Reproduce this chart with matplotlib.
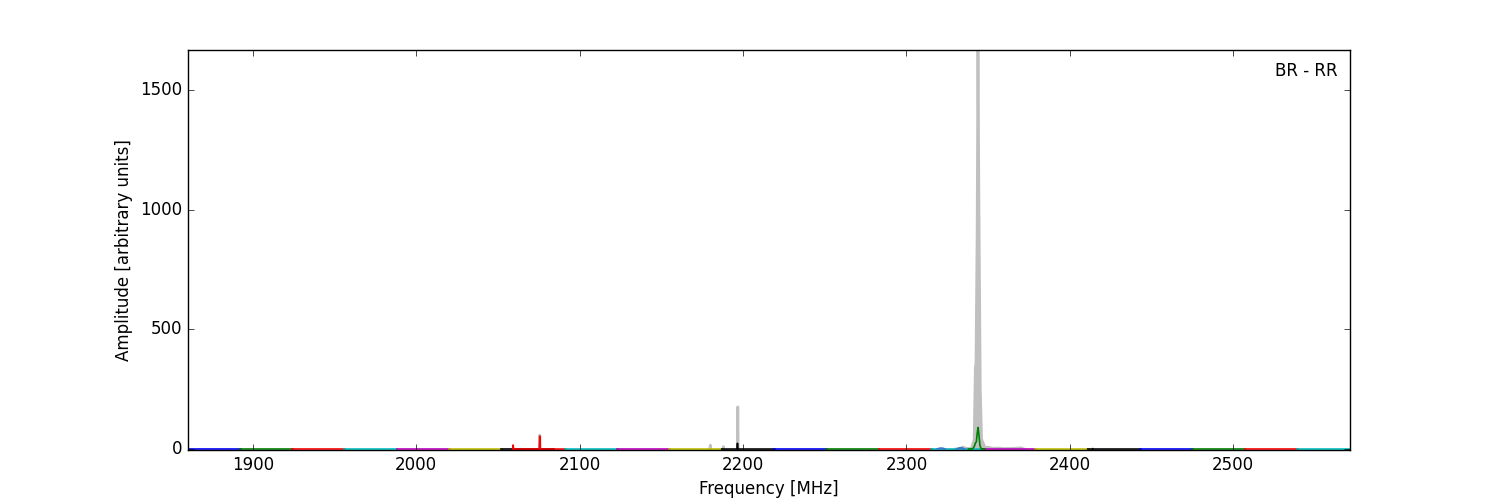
import numpy as np
import matplotlib
matplotlib.use('Agg')
import matplotlib.pyplot as plt

nan = np.nan

# spectral windows: start frequency [MHz] and colour, each 32 MHz wide
win_start = [1860, 1892, 1924, 1956, 1988, 2020, 2052,
             2059, 2091, 2123, 2155, 2187, 2219, 2251, 2283,
             2315, 2347, 2379, 2411, 2443, 2475, 2507, 2539]
win_color = ['b', 'g', 'r', 'c', 'm', 'y', 'k',
             'r', 'c', 'm', 'y', 'k', 'b', 'g', 'r',
             'c', 'm', 'y', 'k', 'b', 'g', 'r', 'c']
win_width = 32.5

# narrow lines inside windows: window index, frequency [MHz], amplitude
line_win = [7, 7, 11, 18]
line_freq = [2059.3, 2075.6, 2196.6, 2414.0]
line_amp = [17, 54, 24, 2]

# grey spectrum (only where it shows above the baseline)
gray_freq = [2075.3, 2075.6, 2075.9, nan,
             2179.7, 2180.0, 2180.3, nan,
             2187.7, 2188.0, 2188.3, nan,
             2196.6, 2196.8, 2197.0, nan,
             2330.0, 2333.0, 2334.5, 2336.0, 2338.0, 2340.0, 2341.5, 2342.2,
             2342.6, 2343.3, 2343.8, 2344.4, 2345.2, 2346.0, 2348.0, 2351.0,
             2353.0, 2356.0, 2360.0, 2366.0, 2370.0, 2372.0]
gray_amp = [0, 58, 0, nan,
            0, 16, 0, nan,
            0, 10, 0, nan,
            0, 176, 0, nan,
            0, 3, 8, 4, 2, 5, 40, 340,
            360, 900, 1666, 1000, 250, 40, 8, 6,
            3, 4, 2, 3, 5, 0]

# green line profile
green_freq = [2338.0, 2340.5, 2341.5, 2342.2, 2342.8, 2343.4, 2343.9,
              2344.4, 2345.0, 2345.8, 2348.0]
green_amp = [0, 1, 10, 25, 30, 70, 90, 60, 15, 1, 0]

# small blue bumps
blue_freq = [2319.0, 2320.5, 2322.0, 2323.5, nan, 2331.0, 2332.5, 2334.0, 2335.5]
blue_amp = [0, 3, 3, 0, nan, 0, 4, 4, 0]

plt.style.use('classic')
fig = plt.figure(figsize=(15, 5), dpi=100)
ax = fig.add_subplot(111)

gf = np.array(gray_freq)
ga = np.array(gray_amp)
ax.fill_between(gf, 0, ga, where=~np.isnan(ga), color='#c0c0c0', lw=0, zorder=1)
ax.plot(gf, ga, color='#c0c0c0', lw=2, zorder=1)

for i, (f0, c) in enumerate(zip(win_start, win_color)):
    x = [f0]
    y = [0]
    for w, f, a in zip(line_win, line_freq, line_amp):
        if w == i:
            x += [f - 0.3, f, f + 0.3]
            y += [0, a, 0]
    x.append(f0 + win_width)
    y.append(0)
    ax.plot(x, y, color=c, lw=1.2, zorder=2)

ax.plot(blue_freq, blue_amp, color='#3a78d0', lw=1.5, zorder=3)
ax.plot(green_freq, green_amp, color='g', lw=1.2, zorder=3)

ax.set_xlim(1860, 2571.5)
ax.set_ylim(-4, 1666)
ax.set_xticks([1900, 2000, 2100, 2200, 2300, 2400, 2500])
ax.set_yticks([0, 500, 1000, 1500])
ax.set_xlabel('Frequency [MHz]')
ax.set_ylabel('Amplitude [arbitrary units]')
ax.text(0.9895, 0.97, 'BR - RR', ha='right', va='top', transform=ax.transAxes)

fig.savefig('out.png', dpi=100)
